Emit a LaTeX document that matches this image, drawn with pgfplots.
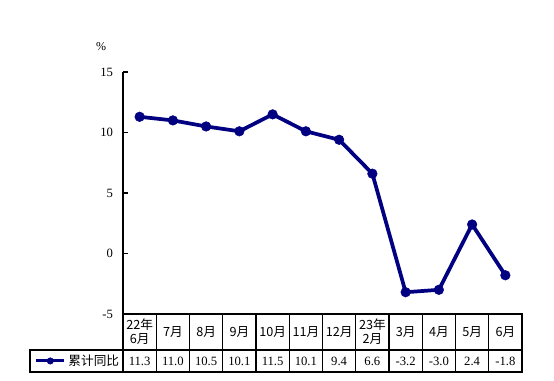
\documentclass[border=0pt]{standalone}
\usepackage{pgfplots}
\usepackage{pgfplotstable}
\pgfplotsset{compat=1.18}
\usepackage{fontspec}
\setmainfont{Liberation Serif}
\newfontfamily\cjk{Noto Sans CJK SC}
\definecolor{navy}{RGB}{0,0,128}
\pgfplotstableread{
x y
1 11.3
2 11.0
3 10.5
4 10.1
5 11.5
6 10.1
7 9.4
8 6.6
9 -3.2
10 -3.0
11 2.4
12 -1.8
}\datatable
\begin{document}
\begin{tikzpicture}
\useasboundingbox (0,0) rectangle (415.5pt,285pt);
\begin{axis}[
  at={(92.25pt,49.5pt)}, anchor=south west,
  scale only axis, width=299.25pt, height=181.5pt,
  xmin=0.5, xmax=12.5, ymin=-5, ymax=15,
  ytick={-5,0,5,10,15}, xtick=\empty,
  axis y line=left, axis x line=bottom,
  axis line style={-, black, line width=0.8pt},
  tick style={black, line width=0.8pt},
  major tick length=4pt,
  tick align=inside,
  yticklabel style={font=\fontsize{9.5}{11}\selectfont, xshift=-4pt},
  /pgf/number format/assume math mode=true,
  clip=false,
  legend style={at={(-0.003,-0.194)}, anchor=east, draw=none, fill=none,
    font=\fontsize{9.5}{11}\selectfont\cjk, inner sep=0pt, outer sep=0pt},
  legend cell align=left,
  legend image code/.code={\draw[#1, line width=2.2pt, mark size=2.4pt, mark repeat=2, mark phase=2] plot coordinates {(0cm,0cm) (0.37cm,0cm) (0.74cm,0cm)};},
]
\addplot[navy, line width=2.8pt, mark=*, mark size=3.6pt, mark options={solid, fill=navy, line width=0.4pt}] table[x=x,y=y] {\datatable};
\addlegendentry{累计同比}
\end{axis}
\begin{scope}[x=0.75pt,y=0.75pt]
\node at (101,333) {\fontsize{9}{11}\selectfont\%};
% table grid
\draw[line width=0.9pt] (123,66) rectangle (522,8);
\draw[line width=0.9pt] (30,30) rectangle (123,8);
\draw[line width=0.9pt] (123,30) -- (522,30);
\foreach \i in {1,...,11} {\draw[line width=0.9pt] ({123+399/12*\i},66) -- ({123+399/12*\i},8);}
\foreach \lab [count=\i from 0] in {{22年\\6月},7月,8月,9月,10月,11月,12月,{23年\\2月},3月,4月,5月,6月} {
  \node[align=center, font=\fontsize{9.5}{10.5}\selectfont\cjk, inner sep=0pt] at ({123+399/12*(\i+0.5)},48) {\lab};
}
\pgfplotstableforeachcolumnelement{y}\of\datatable\as\cell{%
  \node[font=\fontsize{9.5}{11}\selectfont, inner sep=0pt] at ({123+399/12*(\pgfplotstablerow+0.5)},19) {\cell};
}
\end{scope}
\end{tikzpicture}
\end{document}
